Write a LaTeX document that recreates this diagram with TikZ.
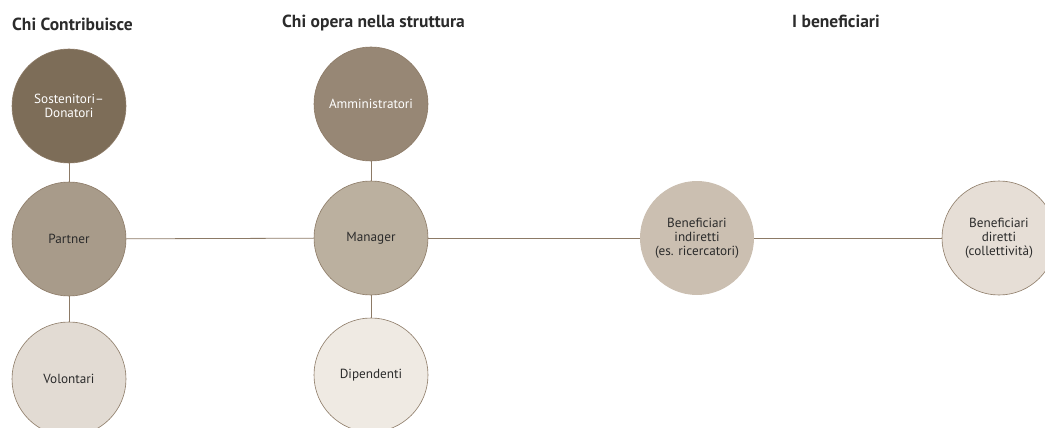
\documentclass[tikz,border=0pt]{standalone}
\usepackage{fontspec}
\setmainfont{PT Sans}
\definecolor{cA}{HTML}{7D6D58}
\definecolor{cB}{HTML}{978775}
\definecolor{cC}{HTML}{A89B8A}
\definecolor{cD}{HTML}{BBB09F}
\definecolor{cE}{HTML}{CBBFB1}
\definecolor{cF}{HTML}{E2DBD3}
\definecolor{cG}{HTML}{EFEAE3}
\definecolor{cH}{HTML}{E6DED6}
\definecolor{edge}{HTML}{8C7A66}
\definecolor{txt}{HTML}{2B2B2B}
\tikzset{
  bubble/.style={circle, minimum size=114pt, inner sep=0pt, draw=edge, line width=0.6pt, align=center, font=\fontsize{13.2}{13.8}\selectfont, text=txt},
  title/.style={anchor=base west, font=\fontsize{17.5}{19}\selectfont\bfseries, text=txt, inner sep=0pt},
  link/.style={draw=edge, line width=0.8pt}
}
\begin{document}
\begin{tikzpicture}[x=1pt,y=-1pt]
\useasboundingbox (0,0) rectangle (1045,428);
\node[title] (t1) at (12,31) {Chi Contribuisce};
\node[title] (t2) at (282,28) {Chi opera nella struttura};
\node[title] (t3) at (792,28) {I beneficiari};

\node[bubble, fill=cA, text=white] (sost) at (69,106) {Sostenitori–\\Donatori};
\node[bubble, fill=cC] (partner) at (69,239) {Partner};
\node[bubble, fill=cF] (vol) at (69,379) {Volontari};

\node[bubble, fill=cB, text=white] (amm) at (371,104) {Amministratori};
\node[bubble, fill=cD] (man) at (371,238) {Manager};
\node[bubble, fill=cG] (dip) at (371,375) {Dipendenti};

\node[bubble, fill=cE, draw=none] (ind) at (697,238) {Beneficiari\\indiretti\\(es. ricercatori)};
\node[bubble, fill=cH] (dir) at (999,238) {Beneficiari\\diretti\\(collettività)};

\draw[link] (sost) -- (partner);
\draw[link] (partner) -- (vol);
\draw[link] (amm) -- (man);
\draw[link] (man) -- (dip);
\draw[link] (partner) -- (man);
\draw[link] (man) -- (ind);
\draw[link] (ind) -- (dir);
\end{tikzpicture}
\end{document}
